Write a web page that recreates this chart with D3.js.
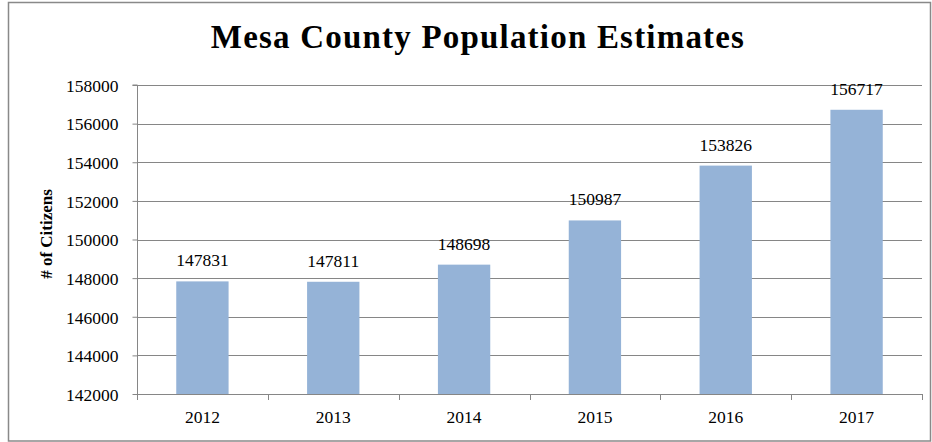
<!DOCTYPE html>
<html><head><meta charset="utf-8">
<script src="https://cdn.jsdelivr.net/npm/d3@7"></script>
<style>body{margin:0;background:#fff}svg{display:block}
text{font-family:'Liberation Serif','Times New Roman',serif}</style>
</head><body>
<svg id="chart" width="932" height="442"></svg>
<script>
const years = ["2012","2013","2014","2015","2016","2017"];
const population = [147831,147811,148698,150987,153826,156717];
const yTicks = [142000,144000,146000,148000,150000,152000,154000,156000,158000];
const titleText = "Mesa County Population Estimates";
const yTitle = "# of Citizens";

const svg = d3.select("#chart");
const W = 932, H = 442;
const m = {left:137, top:85};
const plotR = 922, plotB = 394;
const font = "'Liberation Serif','Times New Roman',serif";
const gridColor = "#868686";
const fs = 17.5;

svg.append("rect").attr("x",8.5).attr("y",2.5).attr("width",W-10).attr("height",H-3.5)
  .attr("fill","#fff").attr("stroke","#898989").attr("stroke-width",1.5);

const x = d3.scaleBand().domain(years).range([m.left, plotR]).paddingInner(0.6).paddingOuter(0.3);
const y = d3.scaleLinear().domain([142000,158000]).range([plotB, m.top]);

// gridlines
svg.append("g").selectAll("line").data(yTicks.slice(1)).join("line")
  .attr("x1",m.left).attr("x2",plotR).attr("y1",d=>Math.round(y(d))+0.5).attr("y2",d=>Math.round(y(d))+0.5)
  .attr("stroke",gridColor).attr("stroke-width",1);

// bars
svg.append("g").selectAll("rect").data(population).join("rect")
  .attr("x",(d,i)=>x(years[i])).attr("width",x.bandwidth())
  .attr("y",d=>y(d)).attr("height",d=>plotB-y(d)).attr("fill","#95B3D7");

// y axis
const yAxis = svg.append("g").attr("transform",`translate(${m.left+0.5},0)`)
  .call(d3.axisLeft(y).tickValues(yTicks).tickSize(5).tickPadding(14).tickFormat(d3.format("d")));
yAxis.attr("font-family",font).attr("font-size",fs);
yAxis.select(".domain").attr("stroke",gridColor).attr("d",`M-5,${y(158000)}H0V${plotB}`);
yAxis.selectAll(".tick line").attr("stroke",gridColor);
yAxis.selectAll("text").attr("fill","#000").attr("dy","0.36em");

// x axis
const step = (plotR-m.left)/years.length;
const xg = svg.append("g");
xg.append("line").attr("x1",m.left).attr("x2",plotR).attr("y1",plotB+0.5).attr("y2",plotB+0.5).attr("stroke",gridColor);
xg.selectAll("line.t").data(d3.range(years.length+1)).join("line").attr("class","t")
  .attr("x1",i=>Math.round(m.left+i*step)+0.5).attr("x2",i=>Math.round(m.left+i*step)+0.5)
  .attr("y1",plotB).attr("y2",plotB+6).attr("stroke",gridColor);
xg.selectAll("text").data(years).join("text")
  .attr("x",d=>x(d)+x.bandwidth()/2).attr("y",plotB+28.5)
  .attr("text-anchor","middle").attr("font-size",fs).text(d=>d);

// data labels
svg.append("g").selectAll("text").data(population).join("text")
  .attr("x",(d,i)=>x(years[i])+x.bandwidth()/2).attr("y",d=>y(d)-15)
  .attr("text-anchor","middle").attr("font-size",fs).text(d=>d);

// title
svg.append("text").attr("x",478).attr("y",48).attr("text-anchor","middle")
  .attr("font-weight","bold").attr("font-size",33).attr("letter-spacing",1.2).text(titleText);

// y title
svg.append("text").attr("transform",`translate(52,234) rotate(-90)`)
  .attr("text-anchor","middle").attr("font-weight","bold").attr("font-size",17).text(yTitle);
</script>
</body></html>
